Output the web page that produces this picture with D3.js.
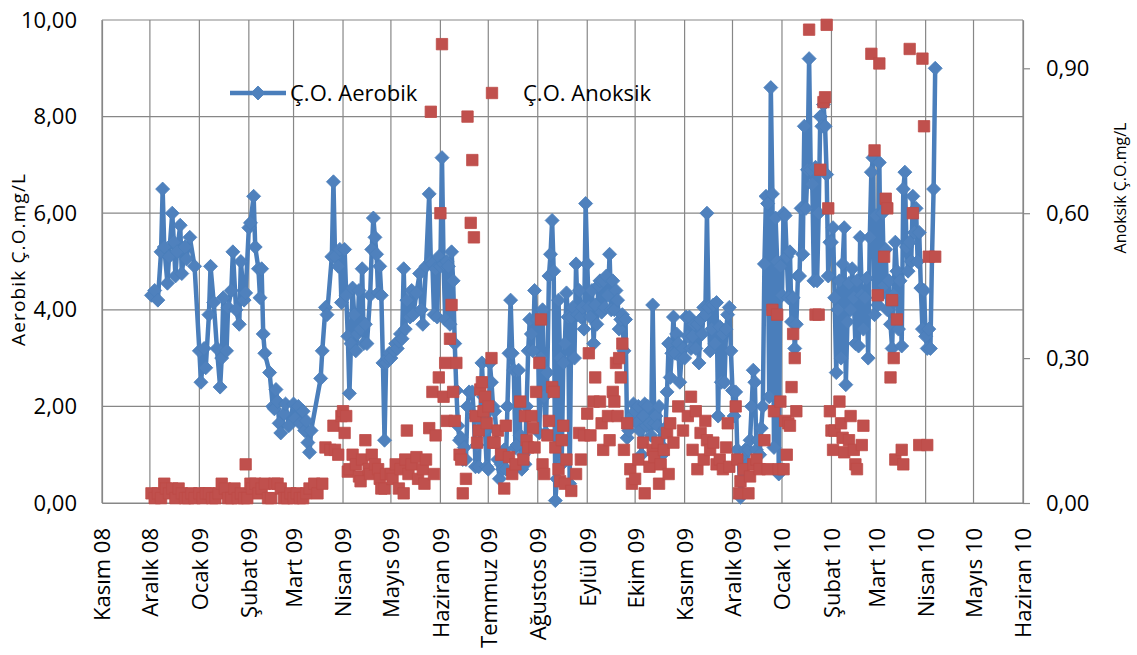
<!DOCTYPE html>
<html>

<head>
  <title>Ç.O. Aerobik / Anoksik</title>
  <meta charset="utf-8">
  <script src="https://d3js.org/d3.v7.min.js"></script>
  <style>
    body { margin: 0; background: #fff; }
    text { font-family: "Open Sans", sans-serif; fill: #000; }
  </style>
</head>

<body>
  <div id="chart"></div>

  <script>
    // month labels on the x axis (Kasım 08 .. Haziran 10)
    var monthLabels = ["Kasım 08", "Aralık 08", "Ocak 09", "Şubat 09", "Mart 09", "Nisan 09", "Mayıs 09",
      "Haziran 09", "Temmuz 09", "Ağustos 09", "Eylül 09", "Ekim 09", "Kasım 09", "Aralık 09",
      "Ocak 10", "Şubat 10", "Mart 10", "Nisan 10", "Mayıs 10", "Haziran 10"];

    var leftTicks = [0, 2, 4, 6, 8, 10];
    var rightTicks = [0, 0.3, 0.6, 0.9];

    // Ç.O. Aerobik, left axis (mg/L)
    var aerobik = [
      ["2008-12-02",4.30],["2008-12-04",4.40],["2008-12-06",4.20],["2008-12-08",5.20],["2008-12-09",6.50],
      ["2008-12-10",5.30],["2008-12-12",4.55],["2008-12-13",5.10],["2008-12-15",6.00],["2008-12-16",5.40],
      ["2008-12-17",4.70],["2008-12-18",5.20],["2008-12-20",5.75],["2008-12-21",4.75],["2008-12-23",5.30],
      ["2008-12-24",5.05],["2008-12-26",5.50],["2008-12-29",4.90],
      ["2009-01-01",3.15],["2009-01-02",2.50],["2009-01-04",3.20],["2009-01-05",2.80],["2009-01-07",3.90],
      ["2009-01-08",4.90],["2009-01-10",4.15],["2009-01-12",3.20],["2009-01-14",2.40],["2009-01-15",3.00],
      ["2009-01-16",4.25],["2009-01-18",3.15],["2009-01-19",4.05],["2009-01-21",4.40],["2009-01-22",5.20],
      ["2009-01-24",4.00],["2009-01-26",3.70],["2009-01-27",5.00],["2009-01-29",4.20],["2009-01-30",4.35],
      ["2009-02-01",5.70],["2009-02-02",5.80],["2009-02-04",6.35],["2009-02-05",5.30],["2009-02-07",4.85],
      ["2009-02-08",4.25],["2009-02-09",4.85],["2009-02-10",3.50],["2009-02-11",3.10],["2009-02-14",2.70],
      ["2009-02-16",2.00],["2009-02-17",1.95],["2009-02-18",2.35],["2009-02-19",2.10],["2009-02-20",1.65],
      ["2009-02-21",1.45],["2009-02-23",1.85],["2009-02-24",2.05],["2009-02-26",1.60],
      ["2009-03-01",2.05],["2009-03-02",1.75],["2009-03-04",2.00],["2009-03-05",1.65],["2009-03-07",1.90],
      ["2009-03-08",1.50],["2009-03-09",1.70],["2009-03-10",1.25],["2009-03-11",1.05],["2009-03-12",1.50],
      ["2009-03-18",2.58],["2009-03-19",3.15],["2009-03-21",4.05],["2009-03-22",3.90],["2009-03-25",5.10],
      ["2009-03-26",6.65],["2009-03-27",5.10],["2009-03-29",4.90],["2009-03-30",5.25],["2009-03-31",4.15],
      ["2009-04-02",5.25],["2009-04-03",4.30],["2009-04-04",3.45],["2009-04-05",2.27],["2009-04-06",3.30],
      ["2009-04-07",4.45],["2009-04-08",3.90],["2009-04-09",3.15],["2009-04-10",3.50],["2009-04-11",4.40],
      ["2009-04-12",3.60],["2009-04-13",4.85],["2009-04-14",3.30],["2009-04-15",3.70],["2009-04-16",3.30],
      ["2009-04-18",4.30],["2009-04-19",5.25],["2009-04-20",5.90],["2009-04-21",5.50],["2009-04-22",5.15],
      ["2009-04-23",4.35],["2009-04-24",4.90],["2009-04-25",4.30],["2009-04-26",2.90],["2009-04-27",1.30],
      ["2009-04-28",2.90],["2009-04-29",3.00],["2009-04-30",3.10],
      ["2009-05-01",3.00],["2009-05-03",3.15],["2009-05-04",3.30],["2009-05-05",3.20],["2009-05-06",3.35],
      ["2009-05-07",3.50],["2009-05-08",3.40],["2009-05-09",4.85],["2009-05-10",3.60],["2009-05-11",4.20],
      ["2009-05-13",3.85],["2009-05-14",4.40],["2009-05-15",3.90],["2009-05-17",4.35],["2009-05-19",4.75],
      ["2009-05-20",4.00],["2009-05-21",3.70],["2009-05-23",4.90],["2009-05-25",6.40],["2009-05-26",5.00],
      ["2009-05-27",4.95],["2009-05-28",3.90],["2009-05-29",4.85],["2009-05-30",3.85],["2009-05-31",5.10],
      ["2009-06-01",4.90],["2009-06-02",7.15],["2009-06-03",4.95],["2009-06-04",3.80],["2009-06-05",5.00],
      ["2009-06-06",4.90],["2009-06-07",3.70],["2009-06-08",5.20],["2009-06-09",4.60],["2009-06-10",3.30],
      ["2009-06-11",2.33],["2009-06-12",1.60],["2009-06-13",1.30],["2009-06-14",1.35],["2009-06-15",0.90],
      ["2009-06-16",1.15],["2009-06-17",0.90],["2009-06-18",2.00],["2009-06-19",2.30],["2009-06-21",2.30],
      ["2009-06-22",1.80],["2009-06-23",0.75],["2009-06-24",1.20],["2009-06-25",0.75],["2009-06-26",1.70],
      ["2009-06-27",2.90],["2009-06-28",2.20],["2009-06-29",1.50],["2009-06-30",0.75],
      ["2009-07-01",0.70],["2009-07-02",2.90],["2009-07-03",2.50],["2009-07-04",2.00],["2009-07-05",1.90],
      ["2009-07-06",1.50],["2009-07-07",0.90],["2009-07-08",0.50],["2009-07-09",0.80],["2009-07-10",0.70],
      ["2009-07-11",1.10],["2009-07-12",0.70],["2009-07-13",2.00],["2009-07-14",3.10],["2009-07-15",4.20],
      ["2009-07-16",3.10],["2009-07-17",2.75],["2009-07-18",1.15],["2009-07-19",1.20],["2009-07-20",2.75],
      ["2009-07-21",1.40],["2009-07-22",0.70],["2009-07-23",1.00],["2009-07-24",0.80],["2009-07-25",2.00],
      ["2009-07-26",3.15],["2009-07-27",3.80],["2009-07-28",3.50],["2009-07-29",3.15],["2009-07-30",4.40],
      ["2009-07-31",3.80],
      ["2009-08-01",3.80],["2009-08-02",1.45],["2009-08-03",3.00],["2009-08-04",4.00],["2009-08-05",2.20],
      ["2009-08-06",1.45],["2009-08-07",2.70],["2009-08-08",4.70],["2009-08-09",5.15],["2009-08-10",5.85],
      ["2009-08-11",4.80],["2009-08-12",0.05],["2009-08-13",0.50],["2009-08-14",4.20],["2009-08-15",3.00],
      ["2009-08-16",0.80],["2009-08-17",2.90],["2009-08-18",3.30],["2009-08-19",4.35],["2009-08-20",3.85],
      ["2009-08-21",0.40],["2009-08-22",3.85],["2009-08-23",4.05],["2009-08-24",3.00],["2009-08-25",4.95],
      ["2009-08-26",3.90],["2009-08-27",4.40],["2009-08-28",3.85],["2009-08-29",4.05],["2009-08-30",3.60],
      ["2009-08-31",6.20],
      ["2009-09-01",4.95],["2009-09-02",4.05],["2009-09-03",3.85],["2009-09-04",4.40],["2009-09-05",3.30],
      ["2009-09-06",4.10],["2009-09-07",3.70],["2009-09-08",4.50],["2009-09-09",4.60],["2009-09-10",3.95],
      ["2009-09-11",4.60],["2009-09-12",4.05],["2009-09-13",4.70],["2009-09-14",4.30],["2009-09-15",5.15],
      ["2009-09-16",4.00],["2009-09-17",4.60],["2009-09-18",4.00],["2009-09-19",4.40],["2009-09-20",4.20],
      ["2009-09-21",3.60],["2009-09-22",3.80],["2009-09-23",3.90],["2009-09-24",3.15],["2009-09-25",3.80],
      ["2009-09-26",1.35],["2009-09-27",1.50],["2009-09-28",1.65],["2009-09-29",1.80],["2009-09-30",2.05],
      ["2009-10-01",1.90],["2009-10-02",1.65],["2009-10-03",2.00],["2009-10-04",1.50],["2009-10-05",1.00],
      ["2009-10-06",1.80],["2009-10-07",2.05],["2009-10-08",1.60],["2009-10-09",2.00],["2009-10-10",1.65],
      ["2009-10-11",1.40],["2009-10-12",4.10],["2009-10-13",1.65],["2009-10-14",1.80],["2009-10-15",1.60],
      ["2009-10-16",2.00],["2009-10-17",1.20],["2009-10-18",1.00],["2009-10-19",1.50],["2009-10-20",1.55],
      ["2009-10-21",2.30],["2009-10-22",3.30],["2009-10-23",2.60],["2009-10-24",3.10],["2009-10-25",3.85],
      ["2009-10-26",3.10],["2009-10-27",3.50],["2009-10-28",3.30],["2009-10-29",2.50],["2009-10-30",3.00],
      ["2009-10-31",3.20],
      ["2009-11-01",3.00],["2009-11-02",3.85],["2009-11-03",3.45],["2009-11-04",3.85],["2009-11-05",3.20],
      ["2009-11-06",3.45],["2009-11-07",3.70],["2009-11-08",3.20],["2009-11-09",3.70],["2009-11-10",2.90],
      ["2009-11-11",3.80],["2009-11-12",3.50],["2009-11-13",4.05],["2009-11-14",3.90],["2009-11-15",6.00],
      ["2009-11-16",4.05],["2009-11-17",3.15],["2009-11-18",3.60],["2009-11-19",4.10],["2009-11-20",3.30],
      ["2009-11-21",4.15],["2009-11-22",1.80],["2009-11-23",3.65],["2009-11-24",2.50],["2009-11-25",3.50],
      ["2009-11-26",2.50],["2009-11-27",3.60],["2009-11-28",3.90],["2009-11-29",4.05],["2009-11-30",3.15],
      ["2009-12-01",2.33],["2009-12-02",1.80],["2009-12-03",2.30],["2009-12-04",1.10],["2009-12-05",0.90],
      ["2009-12-06",0.12],["2009-12-07",0.50],["2009-12-08",0.90],["2009-12-09",1.10],["2009-12-10",0.80],
      ["2009-12-11",1.10],["2009-12-12",1.30],["2009-12-13",2.00],["2009-12-14",2.75],["2009-12-15",2.50],
      ["2009-12-16",1.10],["2009-12-17",1.30],["2009-12-18",1.00],["2009-12-19",1.55],["2009-12-20",2.00],
      ["2009-12-21",4.95],["2009-12-22",6.35],["2009-12-23",6.20],["2009-12-24",2.20],["2009-12-25",8.60],
      ["2009-12-26",6.40],["2009-12-27",1.15],["2009-12-28",5.90],["2009-12-29",5.00],["2009-12-30",0.60],
      ["2009-12-31",4.90],
      ["2010-01-01",4.30],["2010-01-02",6.00],["2010-01-03",5.95],["2010-01-04",5.10],["2010-01-05",4.25],
      ["2010-01-06",5.20],["2010-01-07",3.75],["2010-01-08",4.25],["2010-01-09",3.20],["2010-01-10",3.70],
      ["2010-01-11",4.70],["2010-01-12",4.70],["2010-01-13",6.10],["2010-01-14",5.15],["2010-01-15",7.80],
      ["2010-01-16",6.10],["2010-01-17",6.90],["2010-01-18",9.20],["2010-01-19",6.90],["2010-01-20",6.60],
      ["2010-01-21",4.60],["2010-01-22",6.95],["2010-01-23",4.60],["2010-01-24",6.00],["2010-01-25",8.00],
      ["2010-01-26",7.80],["2010-01-27",8.25],["2010-01-28",7.80],["2010-01-29",6.80],["2010-01-30",4.70],
      ["2010-01-31",5.40],
      ["2010-02-01",5.40],["2010-02-02",5.70],["2010-02-03",4.25],["2010-02-04",2.70],["2010-02-05",4.00],
      ["2010-02-06",4.60],["2010-02-07",3.00],["2010-02-08",4.95],["2010-02-09",5.70],["2010-02-10",2.45],
      ["2010-02-11",3.75],["2010-02-12",4.55],["2010-02-13",4.00],["2010-02-14",4.85],["2010-02-15",4.25],
      ["2010-02-16",3.30],["2010-02-17",4.60],["2010-02-18",3.25],["2010-02-19",5.50],["2010-02-20",4.30],
      ["2010-02-21",3.60],["2010-02-22",4.25],["2010-02-23",4.65],["2010-02-24",3.00],["2010-02-25",5.50],
      ["2010-02-26",6.85],["2010-02-27",7.15],["2010-02-28",3.90],
      ["2010-03-01",5.95],["2010-03-02",4.10],["2010-03-03",7.05],["2010-03-04",4.30],["2010-03-05",6.00],
      ["2010-03-06",4.50],["2010-03-07",5.25],["2010-03-08",4.00],["2010-03-09",4.60],["2010-03-10",3.70],
      ["2010-03-11",3.20],["2010-03-12",4.30],["2010-03-13",5.40],["2010-03-14",4.80],["2010-03-15",3.60],
      ["2010-03-16",4.60],["2010-03-17",3.25],["2010-03-18",6.50],["2010-03-19",6.85],["2010-03-20",5.30],
      ["2010-03-21",4.80],["2010-03-22",5.40],["2010-03-23",5.00],["2010-03-24",6.35],["2010-03-25",5.60],
      ["2010-03-26",6.10],["2010-03-27",5.00],["2010-03-28",5.60],["2010-03-29",4.45],["2010-03-30",3.60],
      ["2010-03-31",4.40],
      ["2010-04-01",3.45],["2010-04-02",3.20],["2010-04-03",3.60],["2010-04-04",3.20],["2010-04-05",5.10],
      ["2010-04-06",6.50],["2010-04-07",9.00]
    ];

    // Ç.O. Anoksik, right axis (mg/L)
    var anoksik = [
      ["2008-12-02",0.02],["2008-12-04",0.01],["2008-12-06",0.02],["2008-12-08",0.01],["2008-12-10",0.04],
      ["2008-12-11",0.03],["2008-12-13",0.02],["2008-12-15",0.03],["2008-12-17",0.01],["2008-12-19",0.03],
      ["2008-12-21",0.02],["2008-12-23",0.01],["2008-12-25",0.01],["2008-12-27",0.02],["2008-12-29",0.01],
      ["2009-01-01",0.02],["2009-01-03",0.01],["2009-01-05",0.02],["2009-01-07",0.02],["2009-01-09",0.01],
      ["2009-01-11",0.01],["2009-01-13",0.02],["2009-01-15",0.04],["2009-01-17",0.03],["2009-01-19",0.01],
      ["2009-01-21",0.01],["2009-01-23",0.03],["2009-01-25",0.01],["2009-01-27",0.02],["2009-01-29",0.01],
      ["2009-01-30",0.08],["2009-01-31",0.01],
      ["2009-02-02",0.04],["2009-02-03",0.03],["2009-02-05",0.04],["2009-02-07",0.02],["2009-02-09",0.03],
      ["2009-02-11",0.04],["2009-02-13",0.01],["2009-02-15",0.01],["2009-02-17",0.04],["2009-02-19",0.04],
      ["2009-02-21",0.03],["2009-02-23",0.01],["2009-02-25",0.01],["2009-02-27",0.02],
      ["2009-03-01",0.01],["2009-03-03",0.02],["2009-03-05",0.01],["2009-03-07",0.01],["2009-03-09",0.02],
      ["2009-03-11",0.03],["2009-03-14",0.04],["2009-03-16",0.02],["2009-03-19",0.04],["2009-03-21",0.115],
      ["2009-03-24",0.11],["2009-03-26",0.16],["2009-03-27",0.11],["2009-03-29",0.10],["2009-03-31",0.18],
      ["2009-04-01",0.19],["2009-04-02",0.145],["2009-04-03",0.18],["2009-04-04",0.065],["2009-04-05",0.07],
      ["2009-04-07",0.10],["2009-04-09",0.08],["2009-04-11",0.055],["2009-04-12",0.045],["2009-04-13",0.09],
      ["2009-04-15",0.13],["2009-04-17",0.07],["2009-04-18",0.06],["2009-04-19",0.10],["2009-04-21",0.08],
      ["2009-04-23",0.07],["2009-04-24",0.05],["2009-04-25",0.03],["2009-04-27",0.03],["2009-04-28",0.06],
      ["2009-05-01",0.06],["2009-05-02",0.05],["2009-05-04",0.08],["2009-05-06",0.03],["2009-05-07",0.07],
      ["2009-05-09",0.02],["2009-05-10",0.09],["2009-05-11",0.15],["2009-05-12",0.06],["2009-05-14",0.08],
      ["2009-05-17",0.095],["2009-05-18",0.05],["2009-05-21",0.07],["2009-05-22",0.04],["2009-05-23",0.09],
      ["2009-05-25",0.155],["2009-05-26",0.81],["2009-05-27",0.23],["2009-05-28",0.06],["2009-05-29",0.14],
      ["2009-05-31",0.26],
      ["2009-06-01",0.60],["2009-06-02",0.95],["2009-06-03",0.22],["2009-06-04",0.29],["2009-06-05",0.17],
      ["2009-06-07",0.34],["2009-06-08",0.41],["2009-06-09",0.23],["2009-06-10",0.17],["2009-06-11",0.29],
      ["2009-06-13",0.10],["2009-06-14",0.09],["2009-06-15",0.02],["2009-06-17",0.05],["2009-06-18",0.80],
      ["2009-06-20",0.58],["2009-06-21",0.71],["2009-06-22",0.55],["2009-06-23",0.18],["2009-06-24",0.125],
      ["2009-06-25",0.15],["2009-06-26",0.235],["2009-06-27",0.25],["2009-06-28",0.19],["2009-06-29",0.22],
      ["2009-06-30",0.165],
      ["2009-07-01",0.20],["2009-07-03",0.30],["2009-07-04",0.125],["2009-07-05",0.125],["2009-07-07",0.15],
      ["2009-07-09",0.10],["2009-07-11",0.03],["2009-07-12",0.16],["2009-07-14",0.095],["2009-07-16",0.06],
      ["2009-07-18",0.08],["2009-07-21",0.21],["2009-07-23",0.09],["2009-07-24",0.18],["2009-07-25",0.13],
      ["2009-07-26",0.115],["2009-07-28",0.18],["2009-07-29",0.155],["2009-07-30",0.115],["2009-07-31",0.23],
      ["2009-08-02",0.29],["2009-08-03",0.38],["2009-08-04",0.08],["2009-08-05",0.06],["2009-08-07",0.14],
      ["2009-08-08",0.17],["2009-08-10",0.24],["2009-08-11",0.23],["2009-08-12",0.115],["2009-08-14",0.07],
      ["2009-08-15",0.045],["2009-08-16",0.13],["2009-08-17",0.16],["2009-08-18",0.04],["2009-08-19",0.09],
      ["2009-08-22",0.025],["2009-08-25",0.06],["2009-08-27",0.145],["2009-08-28",0.09],["2009-08-30",0.14],
      ["2009-09-01",0.185],["2009-09-02",0.31],["2009-09-03",0.14],["2009-09-05",0.21],["2009-09-06",0.26],
      ["2009-09-09",0.21],["2009-09-10",0.165],["2009-09-11",0.11],["2009-09-14",0.18],["2009-09-15",0.13],
      ["2009-09-17",0.23],["2009-09-18",0.21],["2009-09-19",0.29],["2009-09-20",0.18],["2009-09-21",0.30],
      ["2009-09-22",0.26],["2009-09-23",0.33],["2009-09-24",0.11],["2009-09-26",0.165],["2009-09-28",0.07],
      ["2009-09-29",0.04],
      ["2009-10-01",0.05],["2009-10-03",0.09],["2009-10-06",0.125],["2009-10-07",0.02],["2009-10-10",0.075],
      ["2009-10-12",0.11],["2009-10-13",0.095],["2009-10-15",0.125],["2009-10-16",0.04],["2009-10-17",0.08],
      ["2009-10-19",0.11],["2009-10-21",0.145],["2009-10-22",0.06],["2009-10-23",0.165],["2009-10-25",0.125],
      ["2009-10-28",0.20],["2009-10-31",0.15],
      ["2009-11-03",0.18],["2009-11-05",0.22],["2009-11-06",0.11],["2009-11-08",0.19],["2009-11-09",0.07],
      ["2009-11-11",0.145],["2009-11-13",0.09],["2009-11-14",0.17],["2009-11-15",0.13],["2009-11-17",0.11],
      ["2009-11-19",0.125],["2009-11-21",0.08],["2009-11-23",0.09],["2009-11-25",0.07],["2009-11-27",0.115],
      ["2009-11-28",0.165],["2009-11-29",0.075],
      ["2009-12-03",0.20],["2009-12-04",0.09],["2009-12-05",0.02],["2009-12-06",0.045],["2009-12-08",0.07],
      ["2009-12-11",0.02],["2009-12-12",0.055],["2009-12-14",0.08],["2009-12-16",0.09],["2009-12-18",0.07],
      ["2009-12-21",0.13],["2009-12-23",0.07],["2009-12-26",0.40],["2009-12-27",0.19],["2009-12-29",0.39],
      ["2009-12-30",0.07],["2009-12-31",0.21],
      ["2010-01-02",0.07],["2010-01-03",0.17],["2010-01-04",0.10],["2010-01-05",0.165],["2010-01-06",0.16],
      ["2010-01-07",0.24],["2010-01-08",0.35],["2010-01-09",0.30],["2010-01-10",0.19],["2010-01-18",0.98],
      ["2010-01-22",0.39],["2010-01-24",0.39],["2010-01-25",0.69],["2010-01-27",0.83],["2010-01-28",0.84],
      ["2010-01-29",0.99],["2010-01-30",0.61],["2010-01-31",0.19],
      ["2010-02-01",0.15],["2010-02-02",0.11],["2010-02-03",0.15],["2010-02-06",0.21],["2010-02-07",0.165],
      ["2010-02-08",0.135],["2010-02-09",0.105],["2010-02-12",0.13],["2010-02-13",0.18],["2010-02-15",0.11],
      ["2010-02-16",0.08],["2010-02-17",0.07],["2010-02-20",0.12],["2010-02-21",0.16],["2010-02-26",0.93],
      ["2010-02-28",0.73],
      ["2010-03-02",0.43],["2010-03-03",0.91],["2010-03-06",0.51],["2010-03-07",0.63],["2010-03-08",0.61],
      ["2010-03-10",0.26],["2010-03-11",0.42],["2010-03-12",0.30],["2010-03-13",0.09],["2010-03-14",0.38],
      ["2010-03-17",0.11],["2010-03-18",0.08],["2010-03-22",0.94],["2010-03-24",0.60],["2010-03-28",0.12],
      ["2010-03-30",0.92],["2010-03-31",0.78],
      ["2010-04-02",0.12],["2010-04-03",0.51],["2010-04-07",0.51]
    ];

    var svgWidth = 1137, svgHeight = 655,
      plotLeft = 102, plotRight = 1023, plotTop = 20, plotBottom = 503;

    var parse = d3.timeParse("%Y-%m-%d");
    var fmt = d3.formatLocale({decimal: ",", thousands: ".", grouping: [3], currency: ["", ""]}).format(".2f");

    var x = d3.scaleTime()
      .domain([new Date(2008, 10, 1), new Date(2010, 5, 1)])
      .range([plotLeft, plotRight]);
    var yL = d3.scaleLinear().domain([0, 10]).range([plotBottom, plotTop]);
    var yR = d3.scaleLinear().domain([0, 1]).range([plotBottom, plotTop]);

    var months = d3.timeMonth.range(new Date(2008, 10, 1), new Date(2010, 5, 2));

    var svg = d3.select("#chart").append("svg")
      .attr("width", svgWidth)
      .attr("height", svgHeight);

    var gridColor = "#878787";

    // grid
    svg.append("g").selectAll("line")
      .data(leftTicks).enter().append("line")
      .attr("x1", plotLeft).attr("x2", plotRight)
      .attr("y1", function(d) { return yL(d); })
      .attr("y2", function(d) { return yL(d); })
      .attr("stroke", gridColor).attr("stroke-width", 1.2);

    svg.append("g").selectAll("line")
      .data(months).enter().append("line")
      .attr("x1", function(d) { return x(d); })
      .attr("x2", function(d) { return x(d); })
      .attr("y1", plotTop).attr("y2", plotBottom)
      .attr("stroke", gridColor).attr("stroke-width", 1.2);

    // left axis
    var gLeft = svg.append("g")
      .attr("transform", "translate(" + plotLeft + ",0)")
      .call(d3.axisLeft(yL).tickValues(leftTicks).tickSize(0).tickPadding(25).tickFormat(fmt));
    gLeft.select(".domain").attr("stroke", gridColor).attr("stroke-width", 1.2);
    gLeft.selectAll("text").style("font-size", "22px").attr("fill", "#000");

    // right axis
    var gRight = svg.append("g")
      .attr("transform", "translate(" + plotRight + ",0)")
      .call(d3.axisRight(yR).tickValues(rightTicks).tickSize(7).tickSizeOuter(0).tickPadding(16).tickFormat(fmt));
    gRight.select(".domain").attr("stroke", gridColor).attr("stroke-width", 1.2);
    gRight.selectAll("line").attr("stroke", gridColor).attr("stroke-width", 1.2);
    gRight.selectAll("text").style("font-size", "22px").attr("fill", "#000");

    // bottom axis, rotated month names
    var gBottom = svg.append("g")
      .attr("transform", "translate(0," + plotBottom + ")")
      .call(d3.axisBottom(x).tickValues(months).tickSize(0).tickSizeOuter(0)
        .tickFormat(function(d, i) { return monthLabels[i]; }));
    gBottom.select(".domain").attr("stroke", gridColor).attr("stroke-width", 1.2);
    gBottom.selectAll("text")
      .style("font-size", "22px")
      .style("text-anchor", "end")
      .attr("fill", "#000")
      .attr("x", -25)
      .attr("y", 0)
      .attr("dy", "0.36em")
      .attr("transform", "rotate(-90)");

    // axis titles
    svg.append("text")
      .attr("transform", "translate(25,260) rotate(-90)")
      .attr("text-anchor", "middle")
      .attr("textLength", 172)
      .attr("lengthAdjust", "spacing")
      .style("font-size", "19px")
      .text("Aerobik Ç.O.mg/L");

    svg.append("text")
      .attr("transform", "translate(1126,188) rotate(-90)")
      .attr("text-anchor", "middle")
      .style("font-size", "16px")
      .text("Anoksik Ç.O.mg/L");

    var blue = "#4F81BD", blueLine = "#4A7EBB", red = "#C0504D";
    var diamond = d3.symbol().type(d3.symbolSquare).size(98);
    var square = d3.symbol().type(d3.symbolSquare).size(130);

    // aerobik line + diamonds
    var aeroData = aerobik.map(function(d) { return {date: parse(d[0]), value: d[1]}; });
    var line = d3.line()
      .x(function(d) { return x(d.date); })
      .y(function(d) { return yL(d.value); });

    svg.append("path")
      .datum(aeroData)
      .attr("d", line)
      .attr("fill", "none")
      .attr("stroke", blueLine)
      .attr("stroke-width", 4.5)
      .attr("stroke-linejoin", "round");

    svg.append("g").selectAll("path")
      .data(aeroData).enter().append("path")
      .attr("d", diamond)
      .attr("transform", function(d) { return "translate(" + x(d.date) + "," + yL(d.value) + ") rotate(45)"; })
      .attr("fill", blue)
      .attr("stroke", blueLine)
      .attr("stroke-width", 0.8);

    // anoksik squares
    var anoData = anoksik.map(function(d) { return {date: parse(d[0]), value: d[1]}; });
    svg.append("g").selectAll("path")
      .data(anoData).enter().append("path")
      .attr("d", square)
      .attr("transform", function(d) { return "translate(" + x(d.date) + "," + yR(d.value) + ")"; })
      .attr("fill", red)
      .attr("stroke", "#BE4B48")
      .attr("stroke-width", 0.8);

    // legend
    var legend = svg.append("g");
    legend.append("line")
      .attr("x1", 230).attr("x2", 286).attr("y1", 93).attr("y2", 93)
      .attr("stroke", blueLine).attr("stroke-width", 4.5);
    legend.append("path")
      .attr("d", diamond)
      .attr("transform", "translate(258,93) rotate(45)")
      .attr("fill", blue).attr("stroke", blueLine).attr("stroke-width", 0.8);
    legend.append("text")
      .attr("x", 290).attr("y", 93).attr("dy", "0.36em")
      .style("font-size", "22px")
      .text("Ç.O. Aerobik");
    legend.append("path")
      .attr("d", square)
      .attr("transform", "translate(492,93)")
      .attr("fill", red).attr("stroke", "#BE4B48").attr("stroke-width", 0.8);
    legend.append("text")
      .attr("x", 523).attr("y", 93).attr("dy", "0.36em")
      .style("font-size", "22px")
      .text("Ç.O. Anoksik");
  </script>
</body>
</html>
